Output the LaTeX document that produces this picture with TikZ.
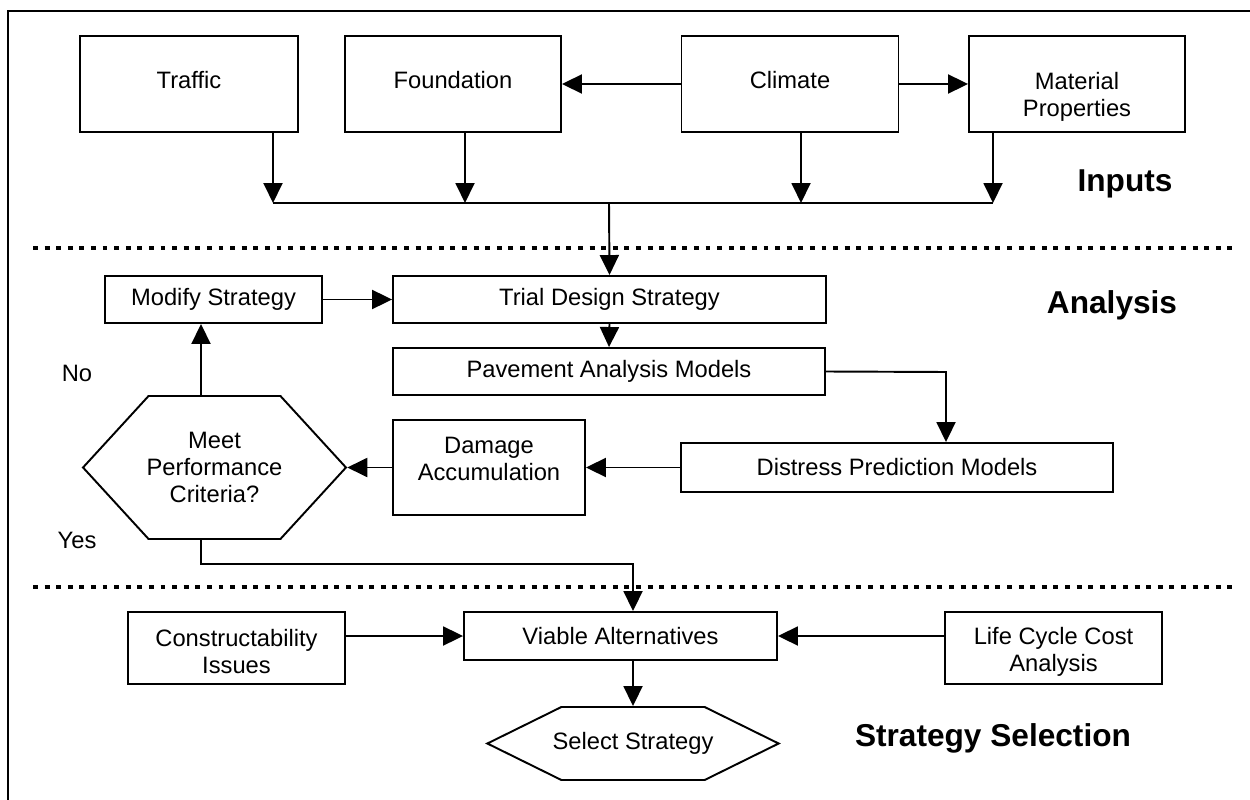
\documentclass[tikz,border=0pt]{standalone}
\usepackage{fontspec}
\setmainfont{Liberation Sans}
\usetikzlibrary{arrows.meta,shapes.symbols}

\tikzset{
  stepbox/.style={draw,line width=1.1pt,align=center,inner sep=2pt,
    font=\fontsize{13.5}{15.5}\selectfont},
  hexbox/.style={stepbox,signal,signal to=east and west},
  flow/.style={line width=1.1pt,-{Triangle[length=0.4cm,width=0.38cm]}},
  link/.style={line width=1.1pt},
  divider/.style={line width=2.8pt,dash pattern=on 2.8pt off 3.8pt},
  phase/.style={font=\bfseries\fontsize{18}{21}\selectfont},
}

\begin{document}
\begin{tikzpicture}[x=0.02cm,y=-0.02cm]
  \useasboundingbox (0,0) rectangle (1250,800);
  \draw[link] (8,830) -- (8,11) -- (1270,11);

  % inputs
  \node[stepbox,minimum width=4.36cm,minimum height=1.92cm,text depth=4.5pt] (traffic) at (189,84) {Traffic};
  \node[stepbox,minimum width=4.32cm,minimum height=1.92cm,text depth=4.5pt] (found) at (453,84) {Foundation};
  \node[stepbox,minimum width=4.34cm,minimum height=1.92cm,text depth=4.5pt] (climate) at (790,84) {Climate};
  \node[stepbox,minimum width=4.32cm,minimum height=1.92cm,text height=40pt,text depth=3pt] (material) at (1077,84) {Material\\Properties};
  \draw[flow] (climate.west) -- (found.east);
  \draw[flow] (climate.east) -- (material.west);

  \coordinate (busT) at (273,203);
  \coordinate (busF) at (465,203);
  \coordinate (busC) at (801,203);
  \coordinate (busM) at (993,203);
  \coordinate (bus) at (609,203);
  \draw[flow] (traffic.south -| busT) -- (busT);
  \draw[flow] (found.south -| busF) -- (busF);
  \draw[flow] (climate.south -| busC) -- (busC);
  \draw[flow] (material.south -| busM) -- (busM);
  \draw[link] (busT) -- (busM);

  \node[phase] (inputs) at (1125,184) {Inputs};
  \draw[divider] (33,248) -- (1233,248);

  % analysis
  \node[stepbox,minimum width=4.34cm,minimum height=0.94cm] (modify) at (213.5,299.5) {Modify Strategy};
  \node[stepbox,minimum width=8.66cm,minimum height=0.94cm] (trial) at (609.5,299.5) {Trial Design Strategy};
  \node[stepbox,minimum width=8.64cm,minimum height=0.94cm] (pavement) at (609,371.5) {Pavement Analysis Models};
  \node[stepbox,minimum width=8.64cm,minimum height=0.98cm] (distress) at (897,467.5) {Distress Prediction Models};
  \node[stepbox,minimum width=3.84cm,minimum height=1.90cm,text depth=10pt] (damage) at (489,467.5) {Damage\\Accumulation};
  \node[hexbox,inner xsep=-1.1pt,signal pointer angle=95,minimum height=2.86cm] (meet) at (214.5,467.5) {Meet\\Performance\\Criteria?};
  \node[phase] (analysis) at (1112,305) {Analysis};
  \node[stepbox,draw=none] (no) at (77,373) {No};
  \node[stepbox,draw=none] (yes) at (77,540) {Yes};

  \draw[flow] (bus) -- (trial.north);
  \draw[flow] (modify.east) -- (trial.west);
  \draw[flow] (trial.south) -- (pavement.north);
  \coordinate (turn) at (946,372);
  \draw[flow] (pavement.east) -- (turn) -- (turn |- distress.north);
  \draw[flow] (distress.west) -- (damage.east);
  \draw[flow] (damage.west) -- (meet.east);
  \coordinate (loop) at (201,564);
  \draw[flow] (meet.north -| loop) -- (modify.south -| loop);

  \draw[divider] (33,587) -- (1233,587);

  % strategy selection
  \node[stepbox,minimum width=4.34cm,minimum height=1.44cm,text height=29.5pt,text depth=0.5pt] (constr) at (236.5,648) {Constructability\\Issues};
  \node[stepbox,minimum width=6.26cm,minimum height=0.96cm] (viable) at (620.5,636) {Viable Alternatives};
  \node[stepbox,minimum width=4.34cm,minimum height=1.44cm,text height=29.5pt,text depth=3pt] (lcca) at (1053.5,648) {Life Cycle Cost\\Analysis};
  \node[hexbox,inner xsep=-5pt,signal pointer angle=52.5,minimum height=1.46cm] (select) at (633,743.5) {Select Strategy};
  \node[phase] (selection) at (993,738) {Strategy Selection};

  \draw[flow] (meet.south -| loop) -- (loop) -| (viable.north -| select.north);
  \draw[flow] (constr.east |- viable.west) -- (viable.west);
  \draw[flow] (lcca.west |- viable.east) -- (viable.east);
  \draw[flow] (viable.south -| select.north) -- (select.north);
\end{tikzpicture}
\end{document}
